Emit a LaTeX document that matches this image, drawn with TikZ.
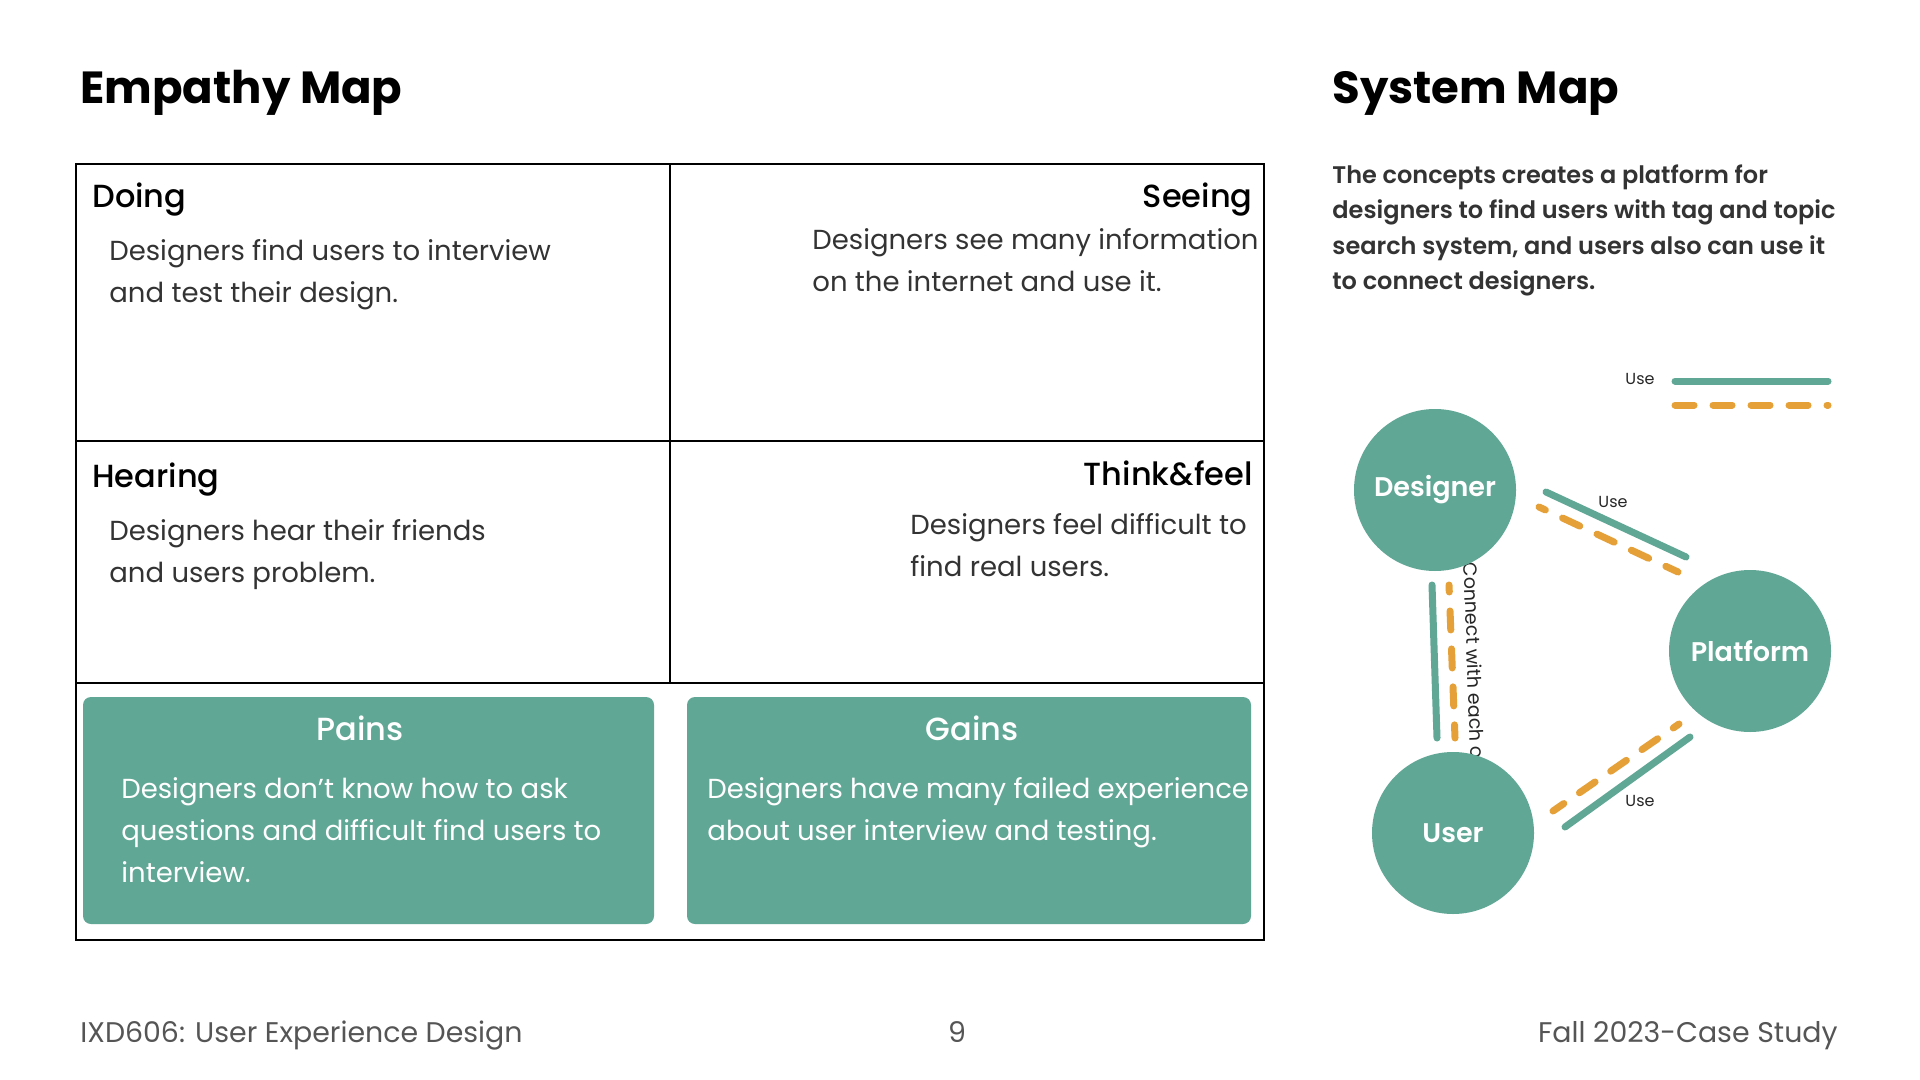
\documentclass[tikz,border=0pt]{standalone}
\usepackage{fontspec}
\setmainfont{Poppins}
\newfontfamily\pmedium{Poppins Medium}
\newfontfamily\psemibold{Poppins SemiBold}
\usetikzlibrary{calc}

\definecolor{sage}{HTML}{61A795}
\definecolor{amber}{HTML}{E6A038}
\definecolor{ink}{HTML}{333333}
\definecolor{footgray}{HTML}{555555}

% multi-line text nodes are placed by the baseline of their last line
\tikzset{
  title/.style={inner sep=0, anchor=base west, font=\bfseries\fontsize{22.5}{26}\selectfont, text=black},
  heading/.style={inner sep=0, font=\pmedium\fontsize{16}{20}\selectfont, text=black},
  body/.style={inner sep=0, align=left, anchor=base west, font=\fontsize{13.75}{21}\selectfont, text=ink},
  cardhead/.style={inner sep=0, anchor=base, font=\pmedium\fontsize{16}{20}\selectfont, text=white},
  cardbody/.style={inner sep=0, align=left, anchor=base west, font=\fontsize{13.75}{21}\selectfont, text=white},
  card/.style={fill=sage, rounded corners=4pt},
  grid/.style={draw=black, line width=0.7pt},
  actor/.style={circle, fill=sage, minimum size=81pt, inner sep=0,
    font=\psemibold\fontsize{13.5}{16}\selectfont, text=white},
  uselink/.style={draw=sage, line width=3.5pt, line cap=round},
  linklink/.style={draw=amber, line width=3.5pt, line cap=round, dash pattern=on 9.5pt off 9.5pt},
  tag/.style={inner sep=0, font=\fontsize{8}{10}\selectfont, text=black!85},
  foot/.style={inner sep=0, font=\fontsize{14.2}{16}\selectfont, text=footgray},
}

\begin{document}
\begin{tikzpicture}[x=0.5pt, y=-0.5pt]
  \useasboundingbox (0,0) rectangle (1920,1080);
  \fill[white] (0,0) rectangle (1920,1080);

  % ---------- Empathy map ----------
  \node[title] (emptitle) at (80,104) {Empathy Map};

  \draw[grid] (76,164) rectangle (1264,940);
  \draw[grid] (670,164) -- (670,683);
  \draw[grid] (76,441) -- (1264,441);
  \draw[grid] (76,683) -- (1264,683);

  \node[heading, anchor=base west] (doing) at (92,208) {Doing};
  \node[body] (doingtxt) at (109,303) {Designers find users to interview\\and test their design.};

  \node[heading, anchor=base east] (seeing) at (1253,208) {Seeing};
  \node[body] (seeingtxt) at (812,292) {Designers see many information\\on the internet and use it.};

  \node[heading, anchor=base west] (hearing) at (92,487) {Hearing};
  \node[body] (hearingtxt) at (109,582) {Designers hear their friends\\and users problem.};

  \node[heading, anchor=base east] (think) at (1253,485) {Think\&feel};
  \node[body] (thinktxt) at (910,576) {Designers feel difficult to\\find real users.};

  \fill[card] (83,697) rectangle (654,924);
  \fill[card] (687,697) rectangle (1251,924);

  \node[cardhead] (pains) at (360,740) {Pains};
  \node[cardbody] (painstxt) at (121,882) {Designers don’t know how to ask\\questions and difficult find users to\\interview.};

  \node[cardhead] (gains) at (972,740) {Gains};
  \node[cardbody] (gainstxt) at (707,840) {Designers have many failed experience\\about user interview and testing.};

  % ---------- System map ----------
  \node[title] (systitle) at (1332,104) {System Map};

  \node[inner sep=0, align=left, anchor=base west,
        font=\psemibold\fontsize{12}{17.75}\selectfont, text=ink] (concept) at (1332,290)
    {The concepts creates a platform for\\designers to find users with tag and topic\\search system, and users also can use it\\to connect designers.};

  % legend
  \coordinate (lgA) at (1675,381);
  \coordinate (lgB) at (1828,381);
  \coordinate (lgC) at (1675,405);
  \coordinate (lgD) at (1828,405);
  \draw[uselink] (lgA) -- (lgB);
  \draw[linklink] (lgC) -- (lgD);
  \node[tag, anchor=base] (lguse) at (1640,385) {Use};

  % connector end points
  \coordinate (dpG1) at (1546,492);
  \coordinate (dpG2) at (1686,557);
  \coordinate (dpO1) at (1539,507);
  \coordinate (dpO2) at (1678,572);
  \coordinate (puG1) at (1690,737);
  \coordinate (puG2) at (1565,827);
  \coordinate (puO1) at (1679,724);
  \coordinate (puO2) at (1553,811);
  \coordinate (duG1) at (1432,585);
  \coordinate (duG2) at (1437,738);
  \coordinate (duO1) at (1449,585);
  \coordinate (duO2) at (1455,738);

  \draw[uselink] (dpG1) -- (dpG2);
  \draw[linklink, dash phase=6pt] (dpO1) -- (dpO2);
  \draw[uselink] (puG1) -- (puG2);
  \draw[linklink, dash phase=6pt] (puO1) -- (puO2);
  \draw[uselink] (duG1) -- (duG2);
  \draw[linklink, dash phase=6pt] (duO1) -- (duO2);

  \node[tag] (usedp) at (1613,502) {Use};
  \node[tag] (usepu) at (1640,801) {Use};
  \node[tag, font=\fontsize{9.5}{10}\selectfont, rotate=-88, anchor=west] (connect) at (1471,562) {Connect with each other};

  \node[actor] (designer) at (1435,490) {Designer};
  \node[actor] (platform) at (1750,651) {Platform};
  \node[actor] (user) at (1453,833) {User};

  % ---------- footer ----------
  \node[foot, anchor=base west] (course) at (80,1042) {IXD606: User Experience Design};
  \node[foot, anchor=base] (page) at (957,1042) {9};
  \node[foot, anchor=base east] (term) at (1838,1042) {Fall 2023-Case Study};
\end{tikzpicture}
\end{document}
